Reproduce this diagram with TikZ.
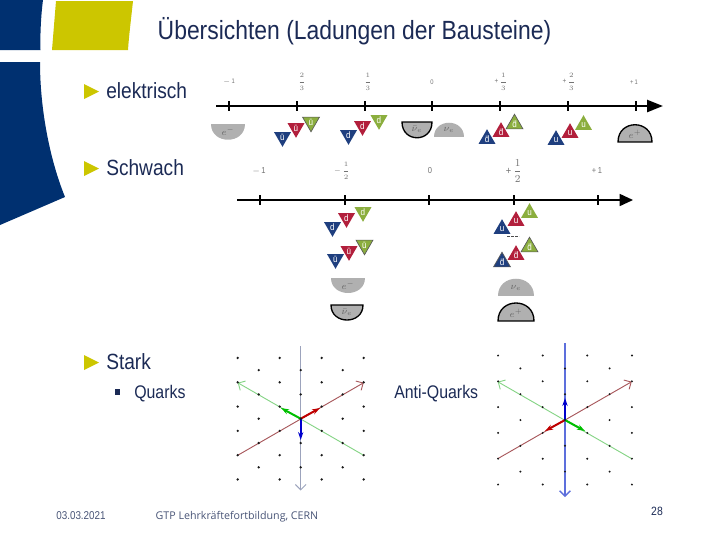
\documentclass[tikz,border=0pt]{standalone}
\usepackage{fontspec}
\setmainfont[FakeStretch=0.87]{Liberation Sans}
\newfontfamily\footfont{Open Sans}
\usetikzlibrary{arrows.meta,shapes.geometric}
\definecolor{navyblue}{HTML}{003070}
\definecolor{slideyellow}{HTML}{CCC600}
\definecolor{slidetext}{HTML}{1B2A55}
\definecolor{qblue}{HTML}{1F3F7F}
\definecolor{qred}{HTML}{B21F3C}
\definecolor{qgreen}{HTML}{8BAE3E}
\definecolor{leptongrey}{HTML}{B0B0B0}
\definecolor{axisgrey}{HTML}{9CA3BC}
\definecolor{axisblue}{HTML}{5D6FDC}
\definecolor{axisgreen}{HTML}{86D486}
\definecolor{axisred}{HTML}{A8585C}
\begin{document}
\begin{tikzpicture}[x=0.75pt, y=-0.75pt,
    quarkup/.style 2 args={regular polygon, regular polygon sides=3, fill=#1, inner sep=0pt,
                  minimum size=14.7pt, label={[text=white, font=\fontsize{7}{8}\selectfont, inner sep=0pt]center:#2}},
    quarkdown/.style 2 args={quarkup={#1}{#2}, shape border rotate=180},
    anti/.style={draw=black!65, line width=0.5pt},
    lepton/.style={fill=leptongrey},
    leptonedge/.style={fill=leptongrey, draw=black, line width=1pt},
    leptonlabel/.style={font=\fontsize{7}{8}\selectfont, text=black!60, inner sep=0pt},
    ticklabel/.style={font=\fontsize{#1}{#1}\selectfont, text=black!55, inner sep=0pt},
    axisarrow/.style={-{Triangle[length=#1pt, width=9pt]}, black},
    colourline/.style={-{Straight Barb[length=4pt,width=8pt]}, #1, line width=0.7pt},
    colourarrow/.style={-{Stealth[length=6pt,width=4pt]}, #1, line width=1.5pt},
    slidetitle/.style={font=\fontsize{19.75}{22}\selectfont, text=slidetext, anchor=center},
    itemtext/.style={font=\fontsize{16.5}{18}\selectfont, text=slidetext, anchor=west, inner sep=0pt},
    subtext/.style={font=\fontsize{13.7}{15}\selectfont, text=slidetext, anchor=west, inner sep=0pt},
    bullet/.style={fill=slideyellow},
    griddot/.style={fill=black!90}
]
\useasboundingbox (0,0) rectangle (720,540);

%% Slide decoration
\fill[navyblue] (0,0) -- (43,0) .. controls (41,15) and (40,35) .. (40.5,50) -- (0,50) -- cycle;
\fill[slideyellow] (56,1) -- (133,1) .. controls (131,20) and (129,35) .. (128,50) -- (52,50) -- cycle;
\fill[navyblue] (0,62) -- (40,62) .. controls (40,110) and (50,160) .. (65,197) -- (0,225) -- cycle;

%% Text
\node[slidetitle] (title) at (354.5,31) {Übersichten (Ladungen der Bausteine)};
\fill[bullet] (84,84) -- (99,91.5) -- (84,99) -- cycle;
\node[itemtext] (elektrisch) at (106,91) {elektrisch};
\fill[bullet] (84,161) -- (99,168.5) -- (84,176) -- cycle;
\node[itemtext] (schwach) at (106,168) {Schwach};
\fill[bullet] (84,355) -- (99,362.5) -- (84,370) -- cycle;
\node[itemtext] (stark) at (106,362) {Stark};
\fill[slidetext] (114.5,388.5) rectangle (119.5,394.5);
\node[subtext] (quarks) at (134,394) {Quarks};
\node[subtext] (antiquarks) at (394,394) {Anti-Quarks};
\node[font=\fontsize{8.5}{10}\selectfont, text=slidetext!80, inner sep=0pt] (datum) at (81,516) {03.03.2021};
\node[font=\footfont\fontsize{8}{10}\selectfont, text=slidetext!80, inner sep=0pt] (fuss) at (237,517) {GTP Lehrkräftefortbildung, CERN};
\node[font=\fontsize{9}{10}\selectfont, text=slidetext, inner sep=0pt] (seite) at (657,511.5) {28};

%% Electric charge axis
\coordinate (ea) at (216,106);
\coordinate (eb) at (663,106);
\draw[axisarrow=12, line width=1.8pt] (ea) -- (eb);
\foreach \x in {229,297,365,432,500,568,636}
    \draw[line width=1.8pt] (\x,101) -- (\x,111);
\node[ticklabel=5] (e1) at (229,82) {$-$\,1};
\node[ticklabel=5.5] (e2) at (302,82) {$\displaystyle\frac{2}{3}$};
\node[ticklabel=5.5] (e3) at (368,82) {$\displaystyle\frac{1}{3}$};
\node[ticklabel=5] (e4) at (432,82) {0};
\node[ticklabel=5.5] (e5) at (501,82) {+\,$\displaystyle\frac{1}{3}$};
\node[ticklabel=5.5] (e6) at (569,82) {+\,$\displaystyle\frac{2}{3}$};
\node[ticklabel=5] (e7) at (634,82) {+\,1};

\node[quarkdown={qblue}{\=u}] (ub1) at (282.5,137) {};
\node[quarkdown={qred}{\=u}] (ur1) at (296,128) {};
\node[quarkdown={qgreen}{\=u}, anti] (ug1) at (311,122) {};
\node[quarkdown={qblue}{d}] (db1) at (348.5,135) {};
\node[quarkdown={qred}{d}] (dr1) at (362.5,126) {};
\node[quarkdown={qgreen}{d}] (dg1) at (379,120) {};
\node[quarkup={qblue}{\=d}] (ab1) at (487,139) {};
\node[quarkup={qred}{\=d}] (ar1) at (501,132) {};
\node[quarkup={qgreen}{\=d}, anti] (ag1) at (514.5,124) {};
\node[quarkup={qblue}{u}] (qb1) at (556,140) {};
\node[quarkup={qred}{u}] (qr1) at (570,133) {};
\node[quarkup={qgreen}{u}] (qg1) at (583.5,125) {};

\fill[lepton] (211,124) .. controls (211,145) and (245,145) .. (245,124) -- cycle;
\node[leptonlabel] (em1) at (228,131) {$e^-$};
\draw[leptonedge] (402,122) .. controls (402,143) and (432,143) .. (432,122) -- cycle;
\node[leptonlabel] (nb1) at (417,129) {$\bar\nu_e$};
\fill[lepton] (434,137) .. controls (434,118) and (464,118) .. (464,137) -- cycle;
\node[leptonlabel] (nu1) at (449,130) {$\nu_e$};
\draw[leptonedge] (618,142) .. controls (618,119) and (652,119) .. (652,142) -- cycle;
\node[leptonlabel] (ep1) at (635,134) {$e^+$};

%% Weak charge axis
\coordinate (wa) at (237,200);
\coordinate (wb) at (633,200);
\draw[axisarrow=10, line width=1.2pt] (wa) -- (wb);
\foreach \x in {260,345,429,514,598}
    \draw[line width=1.2pt] (\x,195) -- (\x,205);
\node[ticklabel=6.5] (w1) at (259,171) {$-$\,1};
\node[ticklabel=5] (w2) at (342,171) {$-$\,$\displaystyle\frac{1}{2}$};
\node[ticklabel=6.5] (w3) at (430,171) {0};
\node[ticklabel=8] (w4) at (514,171) {+\,$\displaystyle\frac{1}{2}$};
\node[ticklabel=6.5] (w5) at (597,171) {+\,1};

\node[quarkdown={qblue}{d}] (db2) at (332.5,227) {};
\node[quarkdown={qred}{d}] (dr2) at (346.5,218) {};
\node[quarkdown={qgreen}{d}] (dg2) at (363,212) {};
\node[quarkdown={qblue}{\=u}] (ub2) at (335.5,259) {};
\node[quarkdown={qred}{\=u}] (ur2) at (349,251) {};
\node[quarkdown={qgreen}{\=u}, anti] (ug2) at (364.5,245) {};
\node[quarkup={qblue}{u}] (qb2) at (502,229) {};
\node[quarkup={qred}{u}] (qr2) at (516,221) {};
\node[quarkup={qgreen}{u}] (qg2) at (529.5,213) {};
\node[quarkup={qblue}{\=d}, anti] (ab2) at (502,262) {};
\node[quarkup={qred}{\=d}] (ar2) at (516,255) {};
\node[quarkup={qgreen}{\=d}, anti] (ag2) at (529.5,247) {};

\fill[lepton] (331,278) .. controls (331,298) and (365,298) .. (365,278) -- cycle;
\node[leptonlabel] (em2) at (348,285) {$e^-$};
\draw[leptonedge] (331,305) .. controls (331,325) and (363,325) .. (363,305) -- cycle;
\node[leptonlabel] (nb2) at (347,312) {$\bar\nu_e$};
\fill[lepton] (498,296) .. controls (498,273) and (534,273) .. (534,296) -- cycle;
\node[leptonlabel] (nu2) at (516,288) {$\nu_e$};
\draw[leptonedge] (498,321) .. controls (498,297) and (534,297) .. (534,321) -- cycle;
\node[leptonlabel] (ep2) at (516,313) {$e^+$};
\draw[black!70, dash pattern=on 2pt off 1pt] (507,236) -- (519,236);

%% Colour charge, quarks
\coordinate (lc) at (300.7,418.7);
\coordinate (lt) at (300.7,346);
\coordinate (lb) at (300.7,490.5);
\coordinate (lg) at (237.7,382.7);
\coordinate (lh) at (363.7,455.3);
\coordinate (lr) at (237.7,455.3);
\coordinate (ls) at (363.7,382.7);
\coordinate (lrq) at (320,408);
\coordinate (lgq) at (281,408);
\coordinate (lbq) at (300.7,440);
\draw[colourline=axisgrey] (lt) -- (lb);
\draw[colourline=axisgreen] (lh) -- (lg);
\draw[colourline=axisred] (lr) -- (ls);
\draw[colourarrow=red!75!black] (lc) -- (lrq);
\draw[colourarrow=green!75!black] (lc) -- (lgq);
\draw[colourarrow=blue!80!black] (lc) -- (lbq);
\foreach \c in {-3,-1,1,3} \foreach \r in {-2.5,-1.5,-0.5,0.5,1.5,2.5}
    \fill[griddot] (300.7+\c*21,418.7+\r*24.3) circle (1.3);
\foreach \c in {-2,0,2} \foreach \r in {-2,-1,0,1,2}
    \fill[griddot] (300.7+\c*21,418.7+\r*24.3) circle (1.3);

%% Colour charge, anti-quarks
\coordinate (rc) at (565,420);
\coordinate (rt) at (565,343);
\coordinate (rb) at (565,497);
\coordinate (rg) at (497.7,381.7);
\coordinate (rh) at (631.7,458.7);
\coordinate (rr) at (497.7,458.7);
\coordinate (rs) at (631.7,381.7);
\coordinate (rrq) at (545,431);
\coordinate (rgq) at (585,431);
\coordinate (rbq) at (565,398);
\draw[colourline=axisblue, line width=1pt] (rt) -- (rb);
\draw[colourline=axisgreen] (rh) -- (rg);
\draw[colourline=axisred] (rr) -- (rs);
\draw[colourarrow=red!75!black] (rc) -- (rrq);
\draw[colourarrow=green!75!black] (rc) -- (rgq);
\draw[colourarrow=blue!80!black] (rc) -- (rbq);
\foreach \c in {-3,-1,1,3} \foreach \r in {-2.5,-1.5,-0.5,0.5,1.5,2.5}
    \fill[griddot] (565+\c*22.3,420+\r*25.8) circle (1.1);
\foreach \c in {-2,0,2} \foreach \r in {-2,-1,0,1,2}
    \fill[griddot] (565+\c*22.3,420+\r*25.8) circle (1.1);

\end{tikzpicture}
\end{document}
